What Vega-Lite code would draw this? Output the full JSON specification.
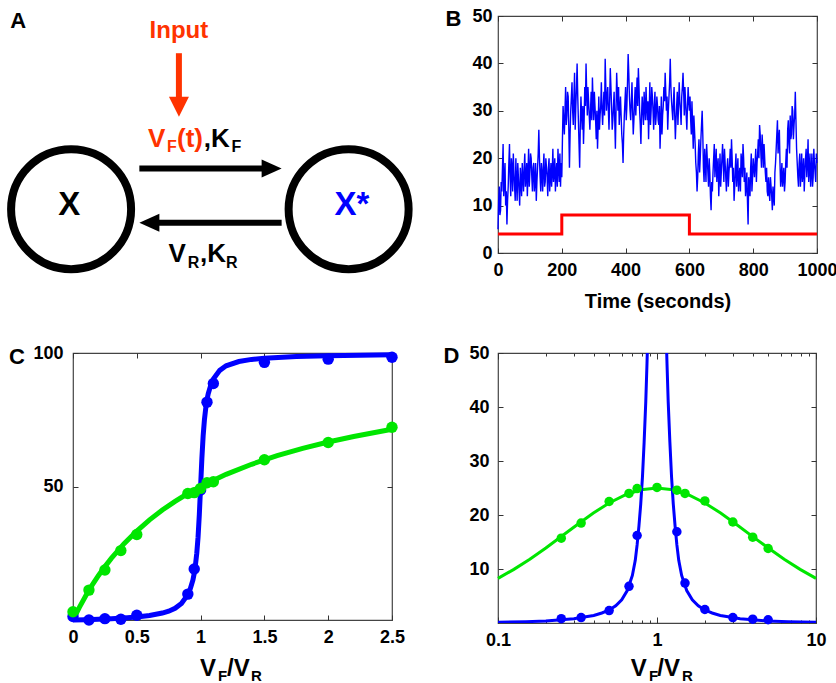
{
"$schema": "https://vega.github.io/schema/vega-lite/v6.json",
"padding": {"left": -5, "top": 6, "right": 0, "bottom": 0},
"background": "white",
"columns": 2,
"bounds": "flush",
"align": "each",
"spacing": {"row": 100, "column": 106},
"config": {
  "font": "Liberation Sans",
  "view": {"stroke": "#444", "strokeWidth": 1.2},
  "axis": {"domain": false, "grid": false, "labelFont": "Liberation Sans", "labelFontSize": 18, "labelFontWeight": "bold", "labelColor": "#000", "tickColor": "#333", "tickSize": -5, "tickWidth": 1, "labelPadding": 13, "titleFont": "Liberation Sans", "titleFontSize": 20, "titleFontWeight": "bold", "titleColor": "#000", "labelFlush": false, "labelOverlap": false},
  "text": {"font": "Liberation Sans", "fontWeight": "bold"}
},
"concat": [
{
  "width": 319, "height": 237,
  "view": {"stroke": null},
  "encoding": {
    "x": {"field": "u", "type": "quantitative", "scale": {"domain": [0, 10], "nice": false}, "axis": null},
    "y": {"field": "v", "type": "quantitative", "scale": {"domain": [-2, 8], "nice": false}, "axis": null}
  },
  "layer": [
    {"data": {"values": [{"u": -0.06, "v": -0.15}, {"u": 8.64, "v": -0.15}]},
     "mark": {"type": "point", "shape": "circle", "size": 14400, "filled": false, "color": "#000", "strokeWidth": 8, "opacity": 1}},
    {"data": {"values": [{"u": 2.08, "v": 1.57, "u2": 6.1, "v2": 1.57, "tone": "black"}, {"u": 2.6, "v": -0.72, "u2": 6.54, "v2": -0.72, "tone": "black"}, {"u": 3.32, "v": 6.43, "u2": 3.32, "v2": 4.4, "tone": "red"}]},
     "mark": {"type": "rule", "strokeWidth": 6, "strokeCap": "butt"},
     "encoding": {"x2": {"field": "u2"}, "y2": {"field": "v2"},
       "color": {"field": "tone", "type": "nominal", "scale": {"domain": ["black", "red", "blue"], "range": ["#000000", "#ff3300", "#0000ff"]}, "legend": null}}},
    {"data": {"values": [{"u": 6.54, "v": 1.57, "dir": "right", "tone": "black"}, {"u": 2.08, "v": -0.72, "dir": "left", "tone": "black"}, {"u": 3.32, "v": 3.75, "dir": "down", "tone": "red"}]},
     "mark": {"type": "point", "filled": true, "size": 400, "opacity": 1, "strokeWidth": 0},
     "encoding": {"shape": {"field": "dir", "type": "nominal", "scale": {"domain": ["right", "left", "down"], "range": ["M0,0L-2,-0.9L-2,0.9Z", "M0,0L2,-0.9L2,0.9Z", "M0,0L-1,-2L1,-2Z"]}, "legend": null},
       "color": {"field": "tone", "type": "nominal", "legend": null}}},
    {"data": {"values": [{"u": 2.35, "v": 2.49, "label": "V", "tone": "red"}, {"u": 3.26, "v": 2.49, "label": "(t)", "tone": "red"}, {"u": 4.1, "v": 2.49, "label": ",K", "tone": "black"}, {"u": 2.99, "v": -2.37, "label": "V", "tone": "black"}, {"u": 3.98, "v": -2.37, "label": ",K", "tone": "black"}]},
     "mark": {"type": "text", "fontSize": 26, "align": "left", "baseline": "alphabetic"},
     "encoding": {"text": {"field": "label"}, "color": {"field": "tone", "type": "nominal", "legend": null}}},
    {"data": {"values": [{"u": 2.95, "v": 2.27, "label": "F", "tone": "red"}, {"u": 4.97, "v": 2.27, "label": "F", "tone": "black"}, {"u": 3.6, "v": -2.65, "label": "R", "tone": "black"}, {"u": 4.8, "v": -2.65, "label": "R", "tone": "black"}]},
     "mark": {"type": "text", "fontSize": 16, "align": "left", "baseline": "alphabetic"},
     "encoding": {"text": {"field": "label"}, "color": {"field": "tone", "type": "nominal", "legend": null}}},
    {"data": {"values": [{"u": 3.32, "v": 7.06, "label": "Input", "tone": "red"}]},
     "mark": {"type": "text", "fontSize": 24, "align": "center", "baseline": "alphabetic"},
     "encoding": {"text": {"field": "label"}, "color": {"field": "tone", "type": "nominal", "legend": null}}},
    {"data": {"values": [{"u": -0.12, "v": -0.4, "label": "X", "tone": "black"}, {"u": 8.74, "v": -0.4, "label": "X*", "tone": "blue"}]},
     "mark": {"type": "text", "fontSize": 33, "align": "center", "baseline": "alphabetic"},
     "encoding": {"text": {"field": "label"}, "color": {"field": "tone", "type": "nominal", "legend": null}}},
    {"data": {"values": [{"u": -1.72, "v": 7.49, "label": "A", "tone": "black"}]},
     "mark": {"type": "text", "fontSize": 22, "align": "center", "baseline": "alphabetic"},
     "encoding": {"text": {"field": "label"}, "color": {"field": "tone", "type": "nominal", "legend": null}}}
  ]
},
{
  "width": 319, "height": 237,
  "resolve": {"axis": {"x": "independent", "y": "independent"}},
  "layer": [
    {"data": {"values": [
{"t":0,"n":5},{"t":2,"n":11},{"t":4,"n":14},{"t":6,"n":8},{"t":8,"n":9},{"t":10,"n":15},{"t":12,"n":13},{"t":14,"n":18},{"t":16,"n":23},{"t":18,"n":12},{"t":20,"n":15},{"t":22,"n":19},{"t":24,"n":10},{"t":26,"n":13},{"t":28,"n":6},{"t":30,"n":11},{"t":32,"n":14},{"t":34,"n":19},{"t":36,"n":23},{"t":38,"n":16},{"t":40,"n":12},{"t":42,"n":20},{"t":44,"n":18},{"t":46,"n":13},{"t":48,"n":21},{"t":50,"n":17},{"t":52,"n":14},{"t":54,"n":11},{"t":56,"n":20},{"t":58,"n":15},{"t":60,"n":11},{"t":62,"n":19},{"t":64,"n":16},{"t":66,"n":13},{"t":68,"n":10},{"t":70,"n":18},{"t":72,"n":15},{"t":74,"n":12},{"t":76,"n":19},{"t":78,"n":16},{"t":80,"n":13},{"t":82,"n":18},{"t":84,"n":21},{"t":86,"n":14},{"t":88,"n":16},{"t":90,"n":19},{"t":92,"n":12},{"t":94,"n":17},{"t":96,"n":22},{"t":98,"n":14},{"t":100,"n":17},{"t":102,"n":21},{"t":104,"n":20},{"t":106,"n":16},{"t":108,"n":13},{"t":110,"n":18},{"t":112,"n":19},{"t":114,"n":13},{"t":116,"n":15},{"t":118,"n":19},{"t":120,"n":11},{"t":122,"n":15},{"t":124,"n":18},{"t":126,"n":21},{"t":128,"n":26},{"t":130,"n":20},{"t":132,"n":16},{"t":134,"n":13},{"t":136,"n":19},{"t":138,"n":17},{"t":140,"n":13},{"t":142,"n":18},{"t":144,"n":21},{"t":146,"n":14},{"t":148,"n":15},{"t":150,"n":20},{"t":152,"n":18},{"t":154,"n":16},{"t":156,"n":12},{"t":158,"n":18},{"t":160,"n":20},{"t":162,"n":13},{"t":164,"n":16},{"t":166,"n":19},{"t":168,"n":14},{"t":170,"n":17},{"t":172,"n":22},{"t":174,"n":15},{"t":176,"n":17},{"t":178,"n":20},{"t":180,"n":13},{"t":182,"n":17},{"t":184,"n":19},{"t":186,"n":14},{"t":188,"n":22},{"t":190,"n":18},{"t":192,"n":15},{"t":194,"n":21},{"t":196,"n":14},{"t":198,"n":19},{"t":200,"n":16},
{"t":202,"n":24},{"t":204,"n":31},{"t":206,"n":28},{"t":208,"n":25},{"t":210,"n":30},{"t":212,"n":35},{"t":214,"n":27},{"t":216,"n":29},{"t":218,"n":34},{"t":220,"n":33},{"t":222,"n":26},{"t":224,"n":18},{"t":226,"n":25},{"t":228,"n":30},{"t":230,"n":33},{"t":232,"n":36},{"t":234,"n":30},{"t":236,"n":27},{"t":238,"n":33},{"t":240,"n":38},{"t":242,"n":26},{"t":244,"n":31},{"t":246,"n":35},{"t":248,"n":40},{"t":250,"n":33},{"t":252,"n":28},{"t":254,"n":23},{"t":256,"n":18},{"t":258,"n":27},{"t":260,"n":33},{"t":262,"n":29},{"t":264,"n":26},{"t":266,"n":31},{"t":268,"n":23},{"t":270,"n":28},{"t":272,"n":35},{"t":274,"n":31},{"t":276,"n":40},{"t":278,"n":34},{"t":280,"n":29},{"t":282,"n":35},{"t":284,"n":32},{"t":286,"n":29},{"t":288,"n":26},{"t":290,"n":30},{"t":292,"n":34},{"t":294,"n":28},{"t":296,"n":37},{"t":298,"n":32},{"t":300,"n":28},{"t":302,"n":34},{"t":304,"n":31},{"t":306,"n":28},{"t":308,"n":24},{"t":310,"n":30},{"t":312,"n":22},{"t":314,"n":27},{"t":316,"n":33},{"t":318,"n":26},{"t":320,"n":29},{"t":322,"n":31},{"t":324,"n":36},{"t":326,"n":30},{"t":328,"n":27},{"t":330,"n":31},{"t":332,"n":34},{"t":334,"n":29},{"t":336,"n":41},{"t":338,"n":35},{"t":340,"n":30},{"t":342,"n":33},{"t":344,"n":35},{"t":346,"n":30},{"t":348,"n":26},{"t":350,"n":32},{"t":352,"n":39},{"t":354,"n":35},{"t":356,"n":31},{"t":358,"n":26},{"t":360,"n":28},{"t":362,"n":31},{"t":364,"n":34},{"t":366,"n":28},{"t":368,"n":22},{"t":370,"n":30},{"t":372,"n":38},{"t":374,"n":34},{"t":376,"n":30},{"t":378,"n":35},{"t":380,"n":27},{"t":382,"n":30},{"t":384,"n":33},{"t":386,"n":29},{"t":388,"n":25},{"t":390,"n":23},{"t":392,"n":19},{"t":394,"n":25},{"t":396,"n":29},{"t":398,"n":32},{"t":400,"n":35},
{"t":402,"n":28},{"t":404,"n":31},{"t":406,"n":36},{"t":408,"n":42},{"t":410,"n":38},{"t":412,"n":33},{"t":414,"n":30},{"t":416,"n":28},{"t":418,"n":32},{"t":420,"n":36},{"t":422,"n":30},{"t":424,"n":25},{"t":426,"n":28},{"t":428,"n":32},{"t":430,"n":35},{"t":432,"n":29},{"t":434,"n":33},{"t":436,"n":37},{"t":438,"n":31},{"t":440,"n":39},{"t":442,"n":35},{"t":444,"n":30},{"t":446,"n":27},{"t":448,"n":23},{"t":450,"n":29},{"t":452,"n":33},{"t":454,"n":30},{"t":456,"n":27},{"t":458,"n":34},{"t":460,"n":31},{"t":462,"n":28},{"t":464,"n":35},{"t":466,"n":31},{"t":468,"n":28},{"t":470,"n":32},{"t":472,"n":24},{"t":474,"n":30},{"t":476,"n":36},{"t":478,"n":27},{"t":480,"n":30},{"t":482,"n":35},{"t":484,"n":33},{"t":486,"n":30},{"t":488,"n":26},{"t":490,"n":31},{"t":492,"n":34},{"t":494,"n":27},{"t":496,"n":29},{"t":498,"n":33},{"t":500,"n":31},{"t":502,"n":28},{"t":504,"n":27},{"t":506,"n":31},{"t":508,"n":22},{"t":510,"n":27},{"t":512,"n":33},{"t":514,"n":25},{"t":516,"n":29},{"t":518,"n":31},{"t":520,"n":35},{"t":522,"n":32},{"t":524,"n":38},{"t":526,"n":34},{"t":528,"n":30},{"t":530,"n":33},{"t":532,"n":26},{"t":534,"n":30},{"t":536,"n":33},{"t":538,"n":36},{"t":540,"n":41},{"t":542,"n":35},{"t":544,"n":32},{"t":546,"n":30},{"t":548,"n":28},{"t":550,"n":32},{"t":552,"n":35},{"t":554,"n":29},{"t":556,"n":24},{"t":558,"n":28},{"t":560,"n":31},{"t":562,"n":34},{"t":564,"n":27},{"t":566,"n":31},{"t":568,"n":36},{"t":570,"n":32},{"t":572,"n":30},{"t":574,"n":27},{"t":576,"n":33},{"t":578,"n":35},{"t":580,"n":38},{"t":582,"n":34},{"t":584,"n":29},{"t":586,"n":35},{"t":588,"n":32},{"t":590,"n":29},{"t":592,"n":26},{"t":594,"n":31},{"t":596,"n":35},{"t":598,"n":32},{"t":600,"n":30},
{"t":602,"n":33},{"t":604,"n":28},{"t":606,"n":25},{"t":608,"n":32},{"t":610,"n":27},{"t":612,"n":22},{"t":614,"n":29},{"t":616,"n":26},{"t":618,"n":23},{"t":620,"n":19},{"t":622,"n":17},{"t":624,"n":13},{"t":626,"n":16},{"t":628,"n":21},{"t":630,"n":24},{"t":632,"n":17},{"t":634,"n":20},{"t":636,"n":24},{"t":638,"n":27},{"t":640,"n":30},{"t":642,"n":25},{"t":644,"n":18},{"t":646,"n":15},{"t":648,"n":22},{"t":650,"n":19},{"t":652,"n":15},{"t":654,"n":23},{"t":656,"n":20},{"t":658,"n":17},{"t":660,"n":14},{"t":662,"n":20},{"t":664,"n":17},{"t":666,"n":12},{"t":668,"n":9},{"t":670,"n":15},{"t":672,"n":13},{"t":674,"n":17},{"t":676,"n":20},{"t":678,"n":23},{"t":680,"n":16},{"t":682,"n":19},{"t":684,"n":22},{"t":686,"n":15},{"t":688,"n":18},{"t":690,"n":20},{"t":692,"n":12},{"t":694,"n":16},{"t":696,"n":21},{"t":698,"n":14},{"t":700,"n":17},{"t":702,"n":20},{"t":704,"n":23},{"t":706,"n":19},{"t":708,"n":15},{"t":710,"n":22},{"t":712,"n":19},{"t":714,"n":16},{"t":716,"n":13},{"t":718,"n":18},{"t":720,"n":20},{"t":722,"n":14},{"t":724,"n":17},{"t":726,"n":19},{"t":728,"n":22},{"t":730,"n":18},{"t":732,"n":24},{"t":734,"n":20},{"t":736,"n":15},{"t":738,"n":18},{"t":740,"n":11},{"t":742,"n":14},{"t":744,"n":18},{"t":746,"n":21},{"t":748,"n":14},{"t":750,"n":17},{"t":752,"n":20},{"t":754,"n":13},{"t":756,"n":16},{"t":758,"n":18},{"t":760,"n":13},{"t":762,"n":21},{"t":764,"n":19},{"t":766,"n":16},{"t":768,"n":23},{"t":770,"n":20},{"t":772,"n":15},{"t":774,"n":18},{"t":776,"n":12},{"t":778,"n":14},{"t":780,"n":17},{"t":782,"n":11},{"t":784,"n":6},{"t":786,"n":16},{"t":788,"n":14},{"t":790,"n":12},{"t":792,"n":18},{"t":794,"n":21},{"t":796,"n":13},{"t":798,"n":16},{"t":800,"n":20},
{"t":802,"n":18},{"t":804,"n":16},{"t":806,"n":19},{"t":808,"n":22},{"t":810,"n":15},{"t":812,"n":19},{"t":814,"n":21},{"t":816,"n":24},{"t":818,"n":20},{"t":820,"n":27},{"t":822,"n":25},{"t":824,"n":21},{"t":826,"n":18},{"t":828,"n":25},{"t":830,"n":22},{"t":832,"n":18},{"t":834,"n":23},{"t":836,"n":20},{"t":838,"n":17},{"t":840,"n":15},{"t":842,"n":18},{"t":844,"n":13},{"t":846,"n":12},{"t":848,"n":16},{"t":850,"n":13},{"t":852,"n":11},{"t":854,"n":16},{"t":856,"n":14},{"t":858,"n":12},{"t":860,"n":9},{"t":862,"n":14},{"t":864,"n":12},{"t":866,"n":10},{"t":868,"n":17},{"t":870,"n":19},{"t":872,"n":22},{"t":874,"n":25},{"t":876,"n":28},{"t":878,"n":21},{"t":880,"n":24},{"t":882,"n":26},{"t":884,"n":19},{"t":886,"n":14},{"t":888,"n":16},{"t":890,"n":19},{"t":892,"n":14},{"t":894,"n":16},{"t":896,"n":18},{"t":898,"n":13},{"t":900,"n":15},{"t":902,"n":19},{"t":904,"n":22},{"t":906,"n":18},{"t":908,"n":26},{"t":910,"n":28},{"t":912,"n":23},{"t":914,"n":21},{"t":916,"n":29},{"t":918,"n":24},{"t":920,"n":25},{"t":922,"n":31},{"t":924,"n":30},{"t":926,"n":24},{"t":928,"n":27},{"t":930,"n":29},{"t":932,"n":34},{"t":934,"n":28},{"t":936,"n":22},{"t":938,"n":19},{"t":940,"n":16},{"t":942,"n":14},{"t":944,"n":19},{"t":946,"n":21},{"t":948,"n":14},{"t":950,"n":17},{"t":952,"n":21},{"t":954,"n":15},{"t":956,"n":17},{"t":958,"n":20},{"t":960,"n":13},{"t":962,"n":17},{"t":964,"n":20},{"t":966,"n":22},{"t":968,"n":16},{"t":970,"n":19},{"t":972,"n":24},{"t":974,"n":15},{"t":976,"n":18},{"t":978,"n":21},{"t":980,"n":14},{"t":982,"n":17},{"t":984,"n":21},{"t":986,"n":14},{"t":988,"n":16},{"t":990,"n":22},{"t":992,"n":19},{"t":994,"n":17},{"t":996,"n":15},{"t":998,"n":21},{"t":1000,"n":19}
    ]},
     "mark": {"type": "line", "color": "#0000ff", "strokeWidth": 1.4},
     "encoding": {
       "x": {"field": "t", "type": "quantitative", "scale": {"domain": [0, 1000], "nice": false}, "axis": {"values": [0, 200, 400, 600, 800, 1000], "labelExpr": "'' + datum.value", "title": "Time (seconds)", "titlePadding": 12}},
       "y": {"field": "n", "type": "quantitative", "scale": {"domain": [0, 50], "nice": false}, "axis": {"values": [0, 10, 20, 30, 40, 50], "labelPadding": 11, "title": null}}}},
    {"data": {"values": [{"t": 0, "n": 4}, {"t": 200, "n": 8}, {"t": 600, "n": 4}, {"t": 1000, "n": 4}]},
     "mark": {"type": "line", "color": "#ff0000", "strokeWidth": 3, "interpolate": "step-after"},
     "encoding": {
       "x": {"field": "t", "type": "quantitative", "axis": {"orient": "top", "values": [0, 200, 400, 600, 800, 1000], "labels": false, "title": null}},
       "y": {"field": "n", "type": "quantitative", "axis": {"orient": "right", "values": [0, 10, 20, 30, 40, 50], "labels": false, "title": null}}}},
    {"data": {"values": [{"t": -139.5, "n": 47.9, "label": "B"}]},
     "mark": {"type": "text", "fontSize": 22, "align": "center", "baseline": "alphabetic", "color": "#000"},
     "encoding": {
       "x": {"field": "t", "type": "quantitative", "axis": null},
       "y": {"field": "n", "type": "quantitative", "axis": null},
       "text": {"field": "label"}}}
  ]
},
{
  "width": 319, "height": 267,
  "resolve": {"axis": {"x": "independent", "y": "independent"}},
  "layer": [
    {"data": {"values": [
{"r":0,"p":0},{"r":0.1,"p":0.13},{"r":0.2,"p":0.3},{"r":0.3,"p":0.5},{"r":0.4,"p":0.78},{"r":0.5,"p":1.15},{"r":0.6,"p":1.7},{"r":0.7,"p":2.6},{"r":0.75,"p":3.3},{"r":0.8,"p":4.4},{"r":0.85,"p":6.2},{"r":0.9,"p":9.5},{"r":0.92,"p":11.8},{"r":0.94,"p":15},{"r":0.95,"p":17.5},{"r":0.96,"p":20.8},{"r":0.97,"p":25},{"r":0.98,"p":31},{"r":0.99,"p":39.5},{"r":1.0,"p":50},{"r":1.01,"p":60.5},{"r":1.02,"p":69},{"r":1.03,"p":75},{"r":1.04,"p":79.2},{"r":1.05,"p":82.5},{"r":1.06,"p":84.8},{"r":1.08,"p":88},{"r":1.1,"p":90.3},{"r":1.15,"p":93.5},{"r":1.2,"p":95.2},{"r":1.3,"p":96.8},{"r":1.4,"p":97.6},{"r":1.5,"p":98.0},{"r":1.75,"p":98.7},{"r":2,"p":99.0},{"r":2.25,"p":99.2},{"r":2.5,"p":99.3}
    ]},
     "mark": {"type": "line", "color": "#0000ff", "strokeWidth": 5},
     "encoding": {
       "x": {"field": "r", "type": "quantitative", "scale": {"domain": [0, 2.5], "nice": false}, "axis": {"values": [0, 0.5, 1, 1.5, 2, 2.5], "labelExpr": "'' + datum.value", "title": null}},
       "y": {"field": "p", "type": "quantitative", "scale": {"domain": [0, 100], "nice": false}, "axis": {"values": [50, 100], "labelPadding": 15, "title": null}}}},
    {"data": {"values": [
{"r":0,"p":0},{"r":0.05,"p":4.76},{"r":0.1,"p":9.09},{"r":0.15,"p":13.04},{"r":0.2,"p":16.67},{"r":0.25,"p":20},{"r":0.3,"p":23.08},{"r":0.4,"p":28.57},{"r":0.5,"p":33.33},{"r":0.6,"p":37.5},{"r":0.7,"p":41.18},{"r":0.8,"p":44.44},{"r":0.9,"p":47.37},{"r":1.0,"p":50},{"r":1.2,"p":54.55},{"r":1.4,"p":58.33},{"r":1.6,"p":61.54},{"r":1.8,"p":64.29},{"r":2.0,"p":66.67},{"r":2.2,"p":68.75},{"r":2.5,"p":71.43}
    ]},
     "mark": {"type": "line", "color": "#00e600", "strokeWidth": 5},
     "encoding": {
       "x": {"field": "r", "type": "quantitative", "axis": {"orient": "top", "values": [0, 0.5, 1, 1.5, 2, 2.5], "labels": false, "title": null}},
       "y": {"field": "p", "type": "quantitative", "axis": {"orient": "right", "values": [50, 100], "labels": false, "title": null}}}},
    {"data": {"values": [
{"r":0,"p":1.3},{"r":0.125,"p":0},{"r":0.25,"p":0.5},{"r":0.375,"p":0.3},{"r":0.5,"p":1.8},{"r":0.9,"p":9.7},{"r":0.95,"p":19.1},{"r":1.0,"p":48.7},{"r":1.05,"p":81.6},{"r":1.1,"p":88.6},{"r":1.5,"p":96.5},{"r":2,"p":97.7},{"r":2.5,"p":98.4}
    ]},
     "mark": {"type": "point", "shape": "circle", "filled": true, "size": 130, "opacity": 1, "color": "#0000ff"},
     "encoding": {"x": {"field": "r", "type": "quantitative", "axis": null}, "y": {"field": "p", "type": "quantitative", "axis": null}}},
    {"data": {"values": [
{"r":0,"p":3.1},{"r":0.125,"p":11.2},{"r":0.25,"p":18.7},{"r":0.375,"p":26},{"r":0.5,"p":32},{"r":0.9,"p":47.4},{"r":0.95,"p":47.7},{"r":1.0,"p":49.3},{"r":1.05,"p":51.4},{"r":1.1,"p":51.8},{"r":1.5,"p":60},{"r":2,"p":66.5},{"r":2.5,"p":72.2}
    ]},
     "mark": {"type": "point", "shape": "circle", "filled": true, "size": 130, "opacity": 1, "color": "#00e600"},
     "encoding": {"x": {"field": "r", "type": "quantitative", "axis": null}, "y": {"field": "p", "type": "quantitative", "axis": null}}},
    {"data": {"values": [{"r": 0.995, "p": -21, "label": "V"}, {"r": 1.207, "p": -21, "label": "/V"}]},
     "mark": {"type": "text", "fontSize": 24, "align": "left", "baseline": "alphabetic", "color": "#000"},
     "encoding": {"x": {"field": "r", "type": "quantitative", "axis": null}, "y": {"field": "p", "type": "quantitative", "axis": null}, "text": {"field": "label"}}},
    {"data": {"values": [{"r": 1.136, "p": -22.8, "label": "F"}, {"r": 1.395, "p": -22.8, "label": "R"}]},
     "mark": {"type": "text", "fontSize": 15, "align": "left", "baseline": "alphabetic", "color": "#000"},
     "encoding": {"x": {"field": "r", "type": "quantitative", "axis": null}, "y": {"field": "p", "type": "quantitative", "axis": null}, "text": {"field": "label"}}},
    {"data": {"values": [{"r": -0.44, "p": 95.9, "label": "C"}]},
     "mark": {"type": "text", "fontSize": 22, "align": "center", "baseline": "alphabetic", "color": "#000"},
     "encoding": {"x": {"field": "r", "type": "quantitative", "axis": null}, "y": {"field": "p", "type": "quantitative", "axis": null}, "text": {"field": "label"}}}
  ]
},
{
  "width": 318, "height": 270,
  "resolve": {"axis": {"x": "independent", "y": "independent"}},
  "layer": [
    {"data": {"values": [
{"r":0.1,"q":8.26},{"r":0.1259,"q":9.93},{"r":0.1585,"q":11.81},{"r":0.2,"q":13.89},{"r":0.2512,"q":16.05},{"r":0.3162,"q":18.25},{"r":0.3981,"q":20.37},{"r":0.5,"q":22.22},{"r":0.631,"q":23.72},{"r":0.7943,"q":24.67},{"r":1,"q":25},{"r":1.259,"q":24.67},{"r":1.585,"q":23.72},{"r":2,"q":22.22},{"r":2.512,"q":20.37},{"r":3.162,"q":18.25},{"r":3.981,"q":16.05},{"r":5.012,"q":13.89},{"r":6.31,"q":11.81},{"r":7.943,"q":9.93},{"r":10,"q":8.26}
    ]},
     "mark": {"type": "line", "color": "#00e600", "strokeWidth": 3},
     "encoding": {
       "x": {"field": "r", "type": "quantitative", "scale": {"type": "log", "domain": [0.1, 10], "nice": false}, "axis": {"values": [0.1, 1, 10], "labelExpr": "'' + datum.value", "tickSize": -6, "labelPadding": 14, "title": null}},
       "y": {"field": "q", "type": "quantitative", "scale": {"domain": [0, 50], "nice": false}, "axis": {"values": [10, 20, 30, 40, 50], "labelPadding": 14, "title": null}}}},
    {"data": {"values": [
{"r":0.1,"q":0.15,"b":"lo"},{"r":0.15,"q":0.25,"b":"lo"},{"r":0.2,"q":0.35,"b":"lo"},{"r":0.25,"q":0.6,"b":"lo"},{"r":0.3,"q":0.8,"b":"lo"},{"r":0.333,"q":1.0,"b":"lo"},{"r":0.4,"q":1.4,"b":"lo"},{"r":0.45,"q":1.85,"b":"lo"},{"r":0.5,"q":2.4,"b":"lo"},{"r":0.55,"q":3.2,"b":"lo"},{"r":0.6,"q":4.3,"b":"lo"},{"r":0.65,"q":6.0,"b":"lo"},{"r":0.7,"q":8.8,"b":"lo"},{"r":0.73,"q":11.6,"b":"lo"},{"r":0.75,"q":14.5,"b":"lo"},{"r":0.77,"q":18,"b":"lo"},{"r":0.79,"q":22,"b":"lo"},{"r":0.81,"q":27,"b":"lo"},{"r":0.83,"q":33.5,"b":"lo"},{"r":0.85,"q":41,"b":"lo"},{"r":0.865,"q":48,"b":"lo"},{"r":0.88,"q":56,"b":"lo"},
{"r":1.136,"q":56,"b":"hi"},{"r":1.156,"q":48,"b":"hi"},{"r":1.176,"q":41,"b":"hi"},{"r":1.205,"q":33.5,"b":"hi"},{"r":1.235,"q":27,"b":"hi"},{"r":1.266,"q":22,"b":"hi"},{"r":1.299,"q":18,"b":"hi"},{"r":1.333,"q":14.5,"b":"hi"},{"r":1.37,"q":11.6,"b":"hi"},{"r":1.429,"q":8.8,"b":"hi"},{"r":1.538,"q":6.0,"b":"hi"},{"r":1.667,"q":4.3,"b":"hi"},{"r":1.818,"q":3.2,"b":"hi"},{"r":2,"q":2.4,"b":"hi"},{"r":2.222,"q":1.85,"b":"hi"},{"r":2.5,"q":1.4,"b":"hi"},{"r":3,"q":1.0,"b":"hi"},{"r":3.333,"q":0.8,"b":"hi"},{"r":4,"q":0.6,"b":"hi"},{"r":5,"q":0.35,"b":"hi"},{"r":6.667,"q":0.25,"b":"hi"},{"r":10,"q":0.15,"b":"hi"}
    ]},
     "mark": {"type": "line", "color": "#0000ff", "strokeWidth": 3, "clip": true},
     "encoding": {
       "detail": {"field": "b", "type": "nominal"},
       "x": {"field": "r", "type": "quantitative", "axis": {"orient": "bottom", "values": [0.2, 0.3, 0.4, 0.5, 0.6, 0.7, 0.8, 0.9, 2, 3, 4, 5, 6, 7, 8, 9], "labels": false, "tickSize": -3, "title": null}},
       "y": {"field": "q", "type": "quantitative", "axis": {"orient": "right", "values": [10, 20, 30, 40, 50], "labels": false, "title": null}}}},
    {"data": {"values": [
{"r":0.25,"q":15.7},{"r":0.3333,"q":18.5},{"r":0.5,"q":22.5},{"r":0.6667,"q":24.0},{"r":0.75,"q":24.9},{"r":1,"q":25.1},{"r":1.3333,"q":24.6},{"r":1.5,"q":24.0},{"r":2,"q":22.6},{"r":3,"q":18.7},{"r":4,"q":15.9},{"r":5,"q":13.8}
    ]},
     "mark": {"type": "point", "shape": "circle", "filled": true, "size": 90, "opacity": 1, "color": "#00e600"},
     "encoding": {
       "x": {"field": "r", "type": "quantitative", "axis": {"orient": "top", "values": [0.1, 1, 10], "labels": false, "tickSize": -6, "title": null}},
       "y": {"field": "q", "type": "quantitative", "axis": null}}},
    {"data": {"values": [
{"r":0.25,"q":0.8},{"r":0.3333,"q":1.0},{"r":0.5,"q":2.3},{"r":0.6667,"q":6.8},{"r":0.75,"q":16.2},{"r":1.3333,"q":16.9},{"r":1.5,"q":7.4},{"r":2,"q":2.5},{"r":3,"q":1.0},{"r":4,"q":0.7},{"r":5,"q":0.6}
    ]},
     "mark": {"type": "point", "shape": "circle", "filled": true, "size": 90, "opacity": 1, "color": "#0000ff"},
     "encoding": {
       "x": {"field": "r", "type": "quantitative", "axis": {"orient": "top", "values": [0.2, 0.3, 0.4, 0.5, 0.6, 0.7, 0.8, 0.9, 2, 3, 4, 5, 6, 7, 8, 9], "labels": false, "tickSize": -3, "title": null}},
       "y": {"field": "q", "type": "quantitative", "axis": null}}},
    {"data": {"values": [{"r": 0.683, "q": -9.8, "label": "V"}, {"r": 1.005, "q": -9.8, "label": "/V"}]},
     "mark": {"type": "text", "fontSize": 24, "align": "left", "baseline": "alphabetic", "color": "#000"},
     "encoding": {"x": {"field": "r", "type": "quantitative", "axis": null}, "y": {"field": "q", "type": "quantitative", "axis": null}, "text": {"field": "label"}}},
    {"data": {"values": [{"r": 0.891, "q": -10.7, "label": "F"}, {"r": 1.436, "q": -10.7, "label": "R"}]},
     "mark": {"type": "text", "fontSize": 15, "align": "left", "baseline": "alphabetic", "color": "#000"},
     "encoding": {"x": {"field": "r", "type": "quantitative", "axis": null}, "y": {"field": "q", "type": "quantitative", "axis": null}, "text": {"field": "label"}}},
    {"data": {"values": [{"r": 0.051, "q": 48.1, "label": "D"}]},
     "mark": {"type": "text", "fontSize": 22, "align": "center", "baseline": "alphabetic", "color": "#000"},
     "encoding": {"x": {"field": "r", "type": "quantitative", "axis": null}, "y": {"field": "q", "type": "quantitative", "axis": null}, "text": {"field": "label"}}}
  ]
}
]
}
